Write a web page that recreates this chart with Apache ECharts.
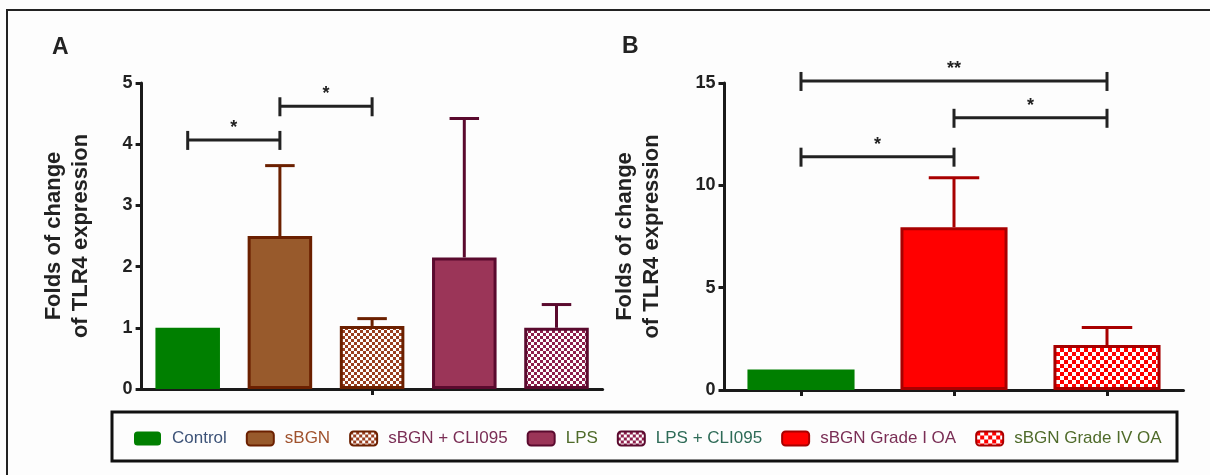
<!DOCTYPE html>
<html>
<head>
<meta charset="utf-8">
<script src="https://cdn.jsdelivr.net/npm/echarts@6/dist/echarts.min.js"></script>
<style>
html,body{margin:0;padding:0;background:#fdfdfd;}
#c{width:1210px;height:475px;}
</style>
</head>
<body>
<div id="c"></div>
<script>
// ---- data ----
const catsA = ['Control', 'sBGN', 'sBGN + CLI095', 'LPS', 'LPS + CLI095'];
const meanA = [1.0, 2.5, 1.03, 2.15, 1.0];
const semA = [0, 1.15, 0.12, 2.27, 0.38];
const catsB = ['Control', 'sBGN Grade I OA', 'sBGN Grade IV OA'];
const meanB = [1.0, 7.95, 2.2];
const semB = [0, 2.42, 0.85];
// significance brackets: [fromIndex, toIndex, yValue]
const sigA = [[0, 1, 4.07], [1, 2, 4.62]];
const sigLabelsA = ['*', '*'];
const sigB = [[0, 1, 11.4], [1, 2, 13.3], [0, 2, 15.1]];
const sigLabelsB = ['*', '*', '**'];
const yMinA = 0, yMaxA = 5, yStepA = 1;
const yMinB = 0, yMaxB = 15, yStepB = 5;
const yTitle = 'Folds of change\nof TLR4 expression';
const legendNames = ['Control', 'sBGN', 'sBGN + CLI095', 'LPS', 'LPS + CLI095', 'sBGN Grade I OA', 'sBGN Grade IV OA'];

// ---- styles ----
function checker(color, s) {
  const cv = document.createElement('canvas');
  cv.width = 2 * s; cv.height = 2 * s;
  const g = cv.getContext('2d');
  g.fillStyle = '#ffffff'; g.fillRect(0, 0, 2 * s, 2 * s);
  g.fillStyle = color; g.fillRect(0, 0, s, s); g.fillRect(s, s, s, s);
  return { image: cv, repeat: 'repeat' };
}
const fillA = ['#007f00', '#985a2c', checker('#9a3f20', 3), '#9b3558', checker('#8e1f4c', 3)];
const borderA = ['#007f00', '#6b2000', '#6b2000', '#5a0a2e', '#5a0a2e'];
const fillB = ['#007f00', '#ff0000', checker('#ff0000', 4)];
const borderB = ['#007f00', '#a80000', '#a80000'];
const legendTextColors = ['#3d5378', '#a0522d', '#7a2e55', '#4f6b2a', '#2e6b57', '#7a2e55', '#4f6b2a'];
const axisColor = '#1a1a1a';
const FONT = 'Liberation Sans, Arial, sans-serif';

const chart = echarts.init(document.getElementById('c'), null, { renderer: 'canvas' });

function valueAxis(gi, min, max, step, gap) {
  return {
    type: 'value', gridIndex: gi, min: min, max: max, interval: step,
    axisLine: { show: true, lineStyle: { color: axisColor, width: 3 } },
    axisTick: { show: true, length: 6, lineStyle: { color: axisColor, width: 3 } },
    splitLine: { show: false },
    axisLabel: { color: '#222', fontSize: 18, fontWeight: 'bold', fontFamily: FONT, margin: 9 },
    name: yTitle, nameLocation: 'middle', nameGap: gap, nameRotate: 90,
    nameTextStyle: { color: '#222', fontSize: 22, fontWeight: 'bold', fontFamily: FONT, lineHeight: 27 }
  };
}
function catAxis(gi, cats, tickFn) {
  return {
    type: 'category', gridIndex: gi, data: cats,
    axisLine: { show: true, lineStyle: { color: axisColor, width: 3 } },
    axisTick: { show: true, alignWithLabel: true, length: 6, interval: tickFn, lineStyle: { color: axisColor, width: 3 } },
    axisLabel: { show: false },
    splitLine: { show: false }
  };
}

function barSeries(cats, means, fills, borders, gi, stack) {
  return cats.map((name, i) => ({
    type: 'bar', name: name, xAxisIndex: gi, yAxisIndex: gi, stack: stack,
    barWidth: '70%',
    data: means.map((v, j) => (j === i ? v : '-')),
    itemStyle: { color: fills[i], borderColor: borders[i], borderWidth: i === 0 ? 0 : 3 },
    z: 3
  }));
}

function errSeries(means, sems, borders, gi, capFrac) {
  return {
    type: 'custom', xAxisIndex: gi, yAxisIndex: gi, z: 2, silent: true,
    encode: { x: 0, y: 1 },
    data: means.map((m, i) => [i, m, sems[i]]),
    renderItem: function (params, api) {
      const i = api.value(0), m = api.value(1), s = api.value(2);
      if (!s) return null;
      const p0 = api.coord([i, m]);
      const p1 = api.coord([i, m + s]);
      const half = api.size([1, 0])[0] * capFrac / 2;
      const st = { stroke: borders[i], lineWidth: 3 };
      return {
        type: 'group', children: [
          { type: 'line', shape: { x1: p0[0], y1: p0[1], x2: p1[0], y2: p1[1] }, style: st },
          { type: 'line', shape: { x1: p1[0] - half, y1: p1[1], x2: p1[0] + half, y2: p1[1] }, style: st }
        ]
      };
    }
  };
}

function sigSeries(sig, labels, gi) {
  return {
    type: 'custom', xAxisIndex: gi, yAxisIndex: gi, z: 5, silent: true, clip: false,
    encode: { x: [0, 1], y: 2 },
    data: sig,
    renderItem: function (params, api) {
      const a = api.coord([api.value(0), api.value(2)]);
      const b = api.coord([api.value(1), api.value(2)]);
      const st = { stroke: '#222', lineWidth: 3 };
      return {
        type: 'group', children: [
          { type: 'line', shape: { x1: a[0], y1: a[1], x2: b[0], y2: a[1] }, style: st },
          { type: 'line', shape: { x1: a[0], y1: a[1] - 9, x2: a[0], y2: a[1] + 10 }, style: st },
          { type: 'line', shape: { x1: b[0], y1: a[1] - 9, x2: b[0], y2: a[1] + 10 }, style: st },
          { type: 'text', style: { x: (a[0] + b[0]) / 2, y: a[1] - 3, text: labels[params.dataIndex],
              textAlign: 'center', textVerticalAlign: 'bottom', fill: '#222', fontSize: 18, fontWeight: 'bold', fontFamily: FONT } }
        ]
      };
    }
  };
}

const option = {
  backgroundColor: '#fdfdfd',
  animation: false,
  grid: [
    { left: 141.6, top: 83, width: 461, height: 306 },
    { left: 724.5, top: 83, width: 459, height: 307 }
  ],
  xAxis: [
    catAxis(0, catsA, function (i) { return i === 2; }),
    catAxis(1, catsB, function () { return true; })
  ],
  yAxis: [
    valueAxis(0, yMinA, yMaxA, yStepA, 47),
    valueAxis(1, yMinB, yMaxB, yStepB, 59)
  ],
  legend: {
    left: 129, top: 425, itemWidth: 27, itemHeight: 14, itemGap: 19, icon: 'roundRect',
    data: legendNames.map((n, i) => ({ name: n, textStyle: { color: legendTextColors[i] } })),
    textStyle: { fontSize: 17, fontFamily: FONT, padding: [0, 0, 0, 6] },
    selectedMode: false
  },
  graphic: [
    { type: 'rect', shape: { x: 7, y: 10, width: 1215, height: 480 }, style: { fill: null, stroke: '#222', lineWidth: 2 }, silent: true },
    { type: 'rect', shape: { x: 112, y: 412, width: 1065, height: 49 }, style: { fill: null, stroke: '#111', lineWidth: 3 }, silent: true },
    { type: 'text', left: 52, top: 36, style: { text: 'A', fontSize: 23, fontWeight: 'bold', fontFamily: FONT, fill: '#222' } },
    { type: 'text', left: 622, top: 35, style: { text: 'B', fontSize: 23, fontWeight: 'bold', fontFamily: FONT, fill: '#222' } }
  ],
  series: [].concat(
    barSeries(catsA, meanA, fillA, borderA, 0, 'A'),
    barSeries(catsB, meanB, fillB, borderB, 1, 'B'),
    [errSeries(meanA, semA, borderA, 0, 0.32), errSeries(meanB, semB, borderB, 1, 0.33),
     sigSeries(sigA, sigLabelsA, 0), sigSeries(sigB, sigLabelsB, 1)]
  )
};
chart.setOption(option);
</script>
</body>
</html>
